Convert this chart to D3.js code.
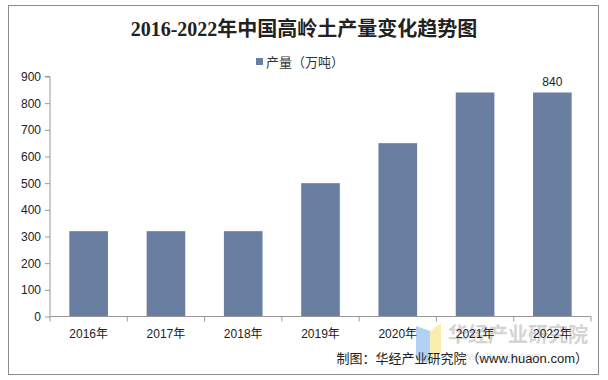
<!DOCTYPE html>
<html><head><meta charset="utf-8">
<script src="https://cdn.jsdelivr.net/npm/d3@7/dist/d3.min.js"></script>
<style>body{margin:0;background:#fff;}svg{display:block;}</style>
</head><body>
<script>
const categories = ["2016年","2017年","2018年","2019年","2020年","2021年","2022年"];
const values = [320, 320, 320, 500, 650, 840, 840];
const yTicks = [0,100,200,300,400,500,600,700,800,900];
const seriesName = "产量（万吨）";
const labelled = ["2022年"];

const W = 608, H = 380;
const svg = d3.select("body").append("svg").attr("width", W).attr("height", H);
svg.append("rect").attr("x",8.5).attr("y",5.5).attr("width",590).attr("height",369)
  .attr("fill","#fff").attr("stroke","#8c8c8c").attr("stroke-width",1);

const m = {l:50, r:591, t:76.5, b:316.5};
const x = d3.scaleBand().domain(categories).range([m.l, m.r]).paddingInner(0.5).paddingOuter(0.25);
const y = d3.scaleLinear().domain([0,900]).range([m.b, m.t]);

const sans = "'Liberation Sans', Arial, 'Noto Sans CJK SC', sans-serif";

// title
svg.append("text").attr("x",304).attr("y",36).attr("text-anchor","middle")
  .attr("font-family","'Liberation Serif','Noto Sans CJK SC',serif").attr("font-weight","bold")
  .attr("font-size",20).attr("fill","#222").text("2016-2022年中国高岭土产量变化趋势图");

// legend
svg.append("rect").attr("x",256).attr("y",58).attr("width",7).attr("height",7).attr("fill","#6a7ea1");
svg.append("text").attr("x",266).attr("y",67).attr("font-family",sans).attr("font-size",13)
  .attr("fill","#333").text(seriesName);

// watermark
const wm = svg.append("g");
wm.append("path").attr("d","M416,326 L430,331 L430,364 L416,359 Z").attr("fill","#a9cdf5").attr("opacity",0.9);
wm.append("path").attr("d","M430,331 L441,323 L441,352 L430,360 Z").attr("fill","#fbeaa7").attr("opacity",0.9);
wm.append("text").attr("x",448).attr("y",342).attr("font-family","'Noto Sans CJK SC',sans-serif")
  .attr("font-weight","bold").attr("font-size",20).attr("fill","#d4d4d4").text("华经产业研究院");
wm.append("text").attr("x",460).attr("y",360).attr("font-family",sans)
  .attr("font-size",11).attr("fill","#e2e2e2").text("www.huaon.com");

// bars
svg.selectAll("rect.bar").data(categories).enter().append("rect").attr("class","bar")
  .attr("x", d => x(d)).attr("width", x.bandwidth())
  .attr("y", (d,i) => y(values[i])).attr("height", (d,i) => y(0) - y(values[i]))
  .attr("fill","#6a7ea1");

// y axis
const ya = svg.append("g").attr("transform",`translate(${m.l},0)`)
  .call(d3.axisLeft(y).tickValues(yTicks).tickSize(5).tickPadding(4));
ya.select(".domain").attr("stroke","#999").attr("d",`M-5,${m.t}H0V${m.b}`);
ya.selectAll(".tick line").attr("stroke","#999");
ya.selectAll("text").attr("font-family",sans).attr("font-size",12).attr("fill","#222");

// x axis
const xa = svg.append("g").attr("transform",`translate(0,${m.b})`);
xa.append("line").attr("x1",m.l).attr("x2",m.r).attr("stroke","#999");
const step = x.step();
const bounds = d3.range(categories.length+1).map(i => m.l + i*(m.r-m.l)/categories.length);
xa.selectAll("line.tk").data(bounds).enter().append("line").attr("class","tk")
  .attr("x1",d=>d).attr("x2",d=>d).attr("y1",0).attr("y2",5).attr("stroke","#999");
xa.selectAll("text").data(categories).enter().append("text")
  .attr("x", d => x(d) + x.bandwidth()/2).attr("y",21).attr("text-anchor","middle")
  .attr("font-family",sans).attr("font-size",12).attr("fill","#222").text(d=>d);

// data label
svg.selectAll("text.lbl").data(categories.filter(c => labelled.includes(c))).enter().append("text")
  .attr("class","lbl").attr("x", d => x(d)+x.bandwidth()/2)
  .attr("y", d => y(values[categories.indexOf(d)]) - 7).attr("text-anchor","middle")
  .attr("font-family",sans).attr("font-size",12).attr("fill","#222")
  .text(d => values[categories.indexOf(d)]);

// source
svg.append("text").attr("x",588).attr("y",363).attr("text-anchor","end")
  .attr("font-family",sans).attr("font-size",13).attr("fill","#222")
  .text("制图：华经产业研究院（www.huaon.com）");
</script>
</body></html>
